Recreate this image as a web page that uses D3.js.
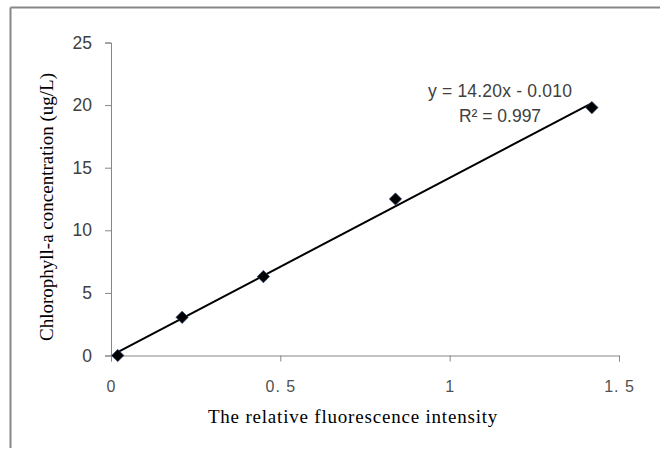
<!DOCTYPE html>
<html>
<head>
<meta charset="utf-8">
<script src="https://cdn.jsdelivr.net/npm/d3@7"></script>
<style>
  html, body { margin: 0; padding: 0; background: #fff; }
  svg { display: block; }
</style>
</head>
<body>
<svg id="chart" width="660" height="450"></svg>
<script>
// ---- data ----
const xValues = [0.02, 0.21, 0.45, 0.84, 1.42];
const yValues = [0.0, 3.05, 6.3, 12.5, 19.8];
const xTicks = [0, 0.5, 1, 1.5];
const xTickLabels = ["0", "0. 5", "1", "1. 5"];
const yTicks = [0, 5, 10, 15, 20, 25];
const trendSlope = 14.20;
const trendIntercept = -0.010;
const equationLines = ["y = 14.20x - 0.010", "R² = 0.997"];
const xTitle = "The relative fluorescence intensity";
const yTitle = "Chlorophyll-a concentration (ug/L)";

const svg = d3.select("#chart");
const x = d3.scaleLinear().domain([0, 1.5]).range([111, 619]);
const y = d3.scaleLinear().domain([0, 25]).range([355.5, 42.5]);

// outer frame (top and left edges visible)
svg.append("line").attr("x1", 10.5).attr("x2", 660).attr("y1", 7.5).attr("y2", 7.5)
  .attr("stroke", "#878787").attr("stroke-width", 2);
svg.append("line").attr("x1", 10.5).attr("x2", 10.5).attr("y1", 7.5).attr("y2", 448)
  .attr("stroke", "#878787").attr("stroke-width", 2);

// y axis
const yAxis = svg.append("g").attr("transform", "translate(" + x(0) + ",0)")
  .call(d3.axisLeft(y).tickValues(yTicks).tickSize(6).tickPadding(13).tickFormat(d3.format("d")));
yAxis.selectAll("path, line").attr("stroke", "#868686");
yAxis.selectAll("text").attr("font-family", "'Liberation Sans', Arial, sans-serif")
  .attr("font-size", 17.5).attr("fill", "#404040");

// x axis
const xAxis = svg.append("g").attr("transform", "translate(0," + y(0) + ")")
  .call(d3.axisBottom(x).tickValues(xTicks).tickSize(6).tickPadding(19)
    .tickFormat((d, i) => xTickLabels[i]));
xAxis.selectAll("path, line").attr("stroke", "#868686");
xAxis.selectAll("text").attr("font-family", "'Liberation Sans', Arial, sans-serif")
  .attr("font-size", 16).attr("letter-spacing", 1).attr("fill", "#505050");

// trendline
const xmin = d3.min(xValues), xmax = d3.max(xValues);
svg.append("line")
  .attr("x1", x(xmin)).attr("y1", y(trendSlope * xmin + trendIntercept))
  .attr("x2", x(xmax)).attr("y2", y(trendSlope * xmax + trendIntercept))
  .attr("stroke", "#000").attr("stroke-width", 2);

// markers
const diamond = d3.symbol().type(d3.symbolDiamond2).size(95);
svg.append("g").selectAll("path").data(xValues).join("path")
  .attr("d", diamond)
  .attr("transform", (d, i) => "translate(" + x(d) + "," + y(yValues[i]) + ")")
  .attr("fill", "#000").attr("stroke", "#1f3864").attr("stroke-width", 0.8);

// equation label
const eq = svg.append("text").attr("font-family", "'Liberation Sans', Arial, sans-serif")
  .attr("font-size", 17.5).attr("fill", "#404040").attr("text-anchor", "middle");
eq.append("tspan").attr("x", 500).attr("y", 97).attr("letter-spacing", 0.2).text(equationLines[0]);
eq.append("tspan").attr("x", 500).attr("y", 122).attr("letter-spacing", 0).text(equationLines[1]);

// axis titles
svg.append("text").attr("x", 353).attr("y", 423).attr("text-anchor", "middle")
  .attr("font-family", "'Liberation Serif', 'Times New Roman', serif").attr("font-size", 19)
  .attr("letter-spacing", 0.8)
  .attr("fill", "#000").text(xTitle);
svg.append("text").attr("transform", "translate(53,207) rotate(-90)").attr("text-anchor", "middle")
  .attr("font-family", "'Liberation Serif', 'Times New Roman', serif").attr("font-size", 19)
  .attr("fill", "#000").text(yTitle);
</script>
</body>
</html>
